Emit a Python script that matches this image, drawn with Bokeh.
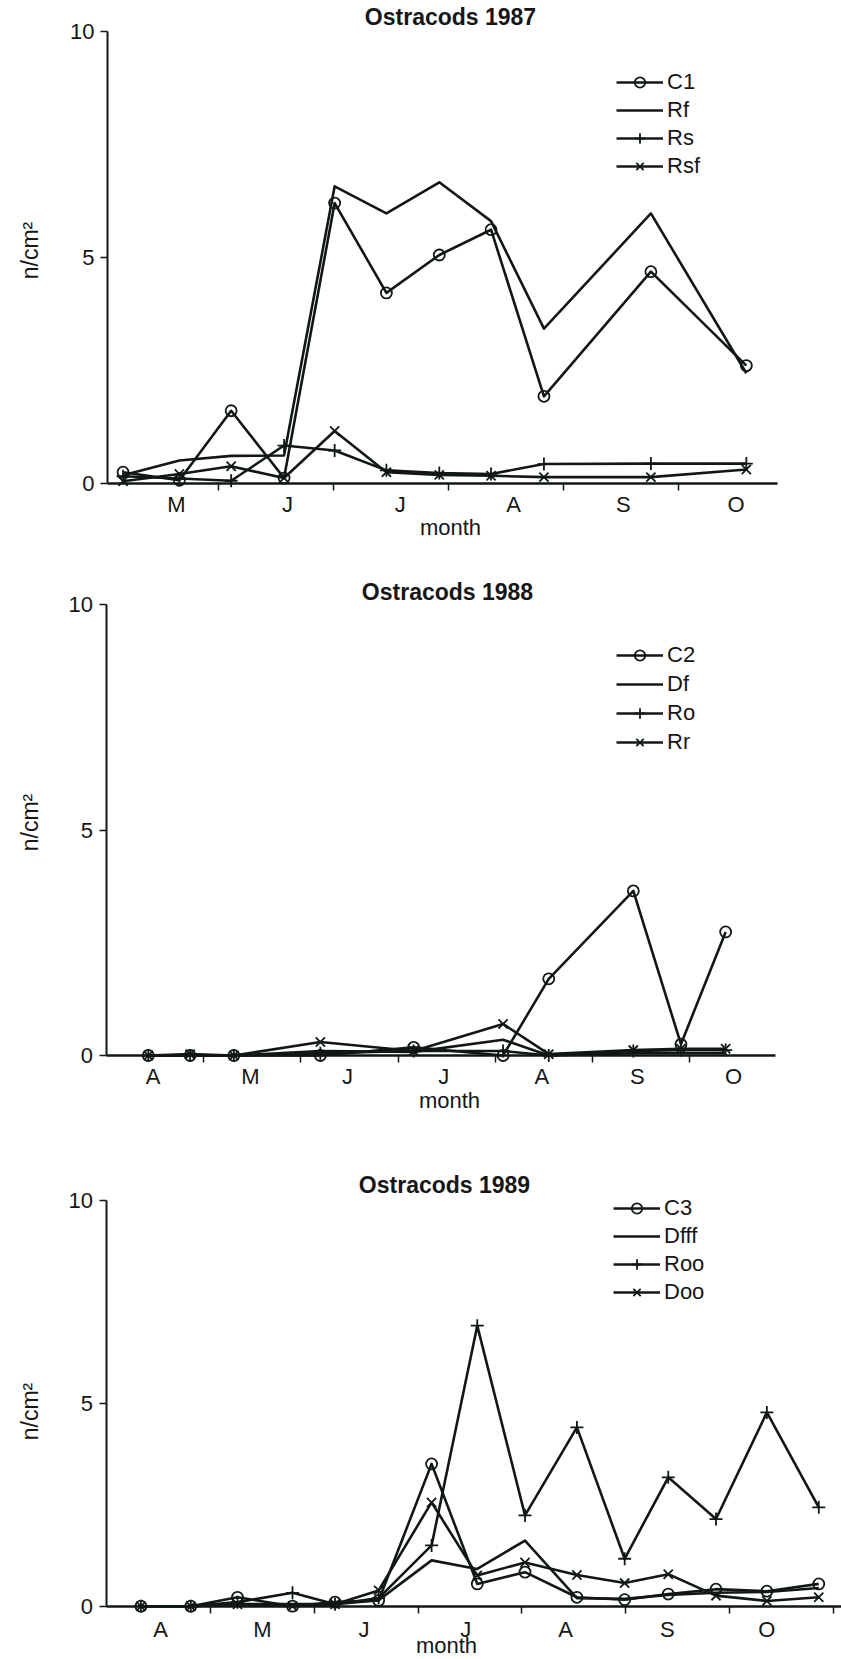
import math
from bokeh.plotting import figure
from bokeh.models import Range1d, FixedTicker, LinearAxis, Label, Legend, LegendItem
from bokeh.layouts import column
from bokeh.embed import file_html
from bokeh.resources import INLINE

# ---------------- data (x = month number, e.g. 5.5 = mid May) ----------------
# 1987
months87 = ["M", "J", "J", "A", "S", "O"]
month_pos87 = [5.635, 6.60, 7.58, 8.565, 9.52, 10.50]
month_edges87 = [6, 7, 8, 9, 10]
t87 = [5.17, 5.66, 6.11, 6.57, 7.01, 7.46, 7.92, 8.37, 8.83, 9.76, 10.59]
C1 = [0.24, 0.06, 1.60, 0.11, 6.20, 4.21, 5.05, 5.61, 1.92, 4.68, 2.60]
Rf = [0.17, 0.50, 0.60, 0.61, 6.57, 5.97, 6.66, 5.80, 3.42, 5.97, 2.43]
Rs = [0.15, 0.10, 0.05, 0.83, 0.72, 0.28, 0.22, 0.20, 0.42, 0.43, 0.43]
Rsf = [0.04, 0.20, 0.37, 0.11, 1.15, 0.24, 0.18, 0.16, 0.13, 0.13, 0.30]

# 1988
months88 = ["A", "M", "J", "J", "A", "S", "O"]
month_pos88 = [4.48, 5.48, 6.48, 7.47, 8.48, 9.46, 10.45]
month_edges88 = [5, 6, 7, 8, 9, 10]
t88 = [4.43, 4.86, 5.31, 6.20, 7.16, 8.08, 8.55, 9.42, 9.91, 10.37]
C2 = [0.0, 0.0, 0.0, 0.0, 0.18, 0.0, 1.70, 3.65, 0.25, 2.74]
Df = [0.0, 0.0, 0.0, 0.10, 0.08, 0.35, 0.0, 0.05, 0.05, 0.05]
Ro = [0.0, 0.0, 0.0, 0.05, 0.10, 0.10, 0.0, 0.10, 0.12, 0.12]
Rr = [0.0, 0.03, 0.0, 0.30, 0.10, 0.70, 0.03, 0.12, 0.15, 0.15]

# 1989
months89 = ["A", "M", "J", "J", "A", "S", "O"]
month_pos89 = [4.52, 5.50, 6.48, 7.46, 8.42, 9.40, 10.36]
month_edges89 = [5, 6, 7, 8, 9, 10, 11]
t89 = [4.33, 4.81, 5.26, 5.79, 6.20, 6.62, 7.13, 7.57, 8.03, 8.53, 8.99, 9.41, 9.87, 10.36, 10.86]
C3 = [0.0, 0.0, 0.22, 0.0, 0.10, 0.14, 3.51, 0.55, 0.84, 0.22, 0.16, 0.30, 0.42, 0.37, 0.55]
Dfff = [0.0, 0.0, 0.05, 0.05, 0.05, 0.15, 1.13, 0.92, 1.62, 0.20, 0.18, 0.28, 0.33, 0.35, 0.45]
Roo = [0.0, 0.0, 0.10, 0.33, 0.05, 0.20, 1.50, 6.92, 2.24, 4.41, 1.17, 3.18, 2.15, 4.78, 2.44]
Doo = [0.0, 0.0, 0.05, 0.0, 0.05, 0.39, 2.56, 0.76, 1.08, 0.77, 0.57, 0.79, 0.26, 0.13, 0.22]

# ---------------- styling ----------------
FONT = "Liberation Sans"
INK = "#111813"
TXT = "#161616"
W = 841
FS = "22px"

# layout of each panel (pixel geometry within the page)
layouts = [
    dict(H=560, top=0, m_ref=5, px_ref=103, ppm=115.0, y0=482.5, ppu=45.15,
         ax0=107, ax1=777, title_xy=(450, 16), month_xy=(450, 527), ylab_xy=(29.6, 250),
         leg_x=616, leg_top=68.7, leg_sp=2, lab_standoff=2),
    dict(H=555, top=560, m_ref=4, px_ref=106, ppm=97.2, y0=1055, ppu=45.1,
         ax0=105.5, ax1=775, title_xy=(447, 591), month_xy=(449, 1100), ylab_xy=(29.5, 822),
         leg_x=616, leg_top=642, leg_sp=3, lab_standoff=1),
    dict(H=544, top=1115, m_ref=4, px_ref=106.2, ppm=103.8, y0=1605.7, ppu=40.54,
         ax0=105.5, ax1=841, title_xy=(444, 1184), month_xy=(446, 1645), ylab_xy=(29.5, 1411),
         leg_x=613, leg_top=1194.5, leg_sp=2, lab_standoff=4),
]

panels = [
    dict(title="Ostracods 1987", t=t87, labels=months87, pos=month_pos87, edges=month_edges87,
         series=[("C1", C1, "circle"), ("Rf", Rf, None), ("Rs", Rs, "cross"), ("Rsf", Rsf, "x")]),
    dict(title="Ostracods 1988", t=t88, labels=months88, pos=month_pos88, edges=month_edges88,
         series=[("C2", C2, "circle"), ("Df", Df, None), ("Ro", Ro, "cross"), ("Rr", Rr, "x")]),
    dict(title="Ostracods 1989", t=t89, labels=months89, pos=month_pos89, edges=month_edges89,
         series=[("C3", C3, "circle"), ("Dfff", Dfff, None), ("Roo", Roo, "cross"), ("Doo", Doo, "x")]),
]

marker_size = {"circle": 11, "cross": 13, "x": 13}


def build(panel, lay):
    H, top = lay["H"], lay["top"]
    ppm, ppu = lay["ppm"], lay["ppu"]

    def px2x(px):
        return lay["m_ref"] + (px - lay["px_ref"]) / ppm

    def py2y(py_page):
        return (lay["y0"] - py_page) / ppu

    xa, xb = px2x(0), px2x(W)
    ya, yb = py2y(top + H), py2y(top)

    p = figure(width=W, height=H, x_range=Range1d(xa, xb), y_range=Range1d(ya, yb),
               x_axis_type=None, y_axis_type=None, title=None,
               toolbar_location=None, output_backend="svg",
               min_border_left=0, min_border_right=0, min_border_top=0, min_border_bottom=0,
               outline_line_color=None, background_fill_color="white", border_fill_color="white")

    # x axis at y = 0
    xs0, xs1 = px2x(lay["ax0"]), min(px2x(lay["ax1"]), xb)
    xaxis = LinearAxis(fixed_location=0, bounds=(xs0, xs1),
                       ticker=FixedTicker(ticks=panel["pos"], minor_ticks=panel["edges"]),
                       major_label_overrides={float(k): v for k, v in zip(panel["pos"], panel["labels"])},
                       axis_line_color=INK, axis_line_width=2.5,
                       major_tick_out=0, major_tick_in=0,
                       minor_tick_out=7, minor_tick_in=0, minor_tick_line_color=INK, minor_tick_line_width=1.5,
                       major_label_standoff=lay["lab_standoff"],
                       major_label_text_font=FONT, major_label_text_font_size=FS,
                       major_label_text_color=TXT)
    p.add_layout(xaxis, "below")

    # y axis at the left end of the x axis
    yaxis = LinearAxis(fixed_location=xs0, bounds=(0, 10),
                       ticker=FixedTicker(ticks=[0, 5, 10], minor_ticks=[]),
                       axis_line_color=INK, axis_line_width=2,
                       major_tick_out=7, major_tick_in=0, major_tick_line_color=INK, major_tick_line_width=1.5,
                       minor_tick_out=0, minor_tick_in=0,
                       major_label_standoff=6,
                       major_label_text_font=FONT, major_label_text_font_size=FS,
                       major_label_text_color=TXT)
    p.add_layout(yaxis, "left")

    items = []
    for name, vals, marker in panel["series"]:
        rl = p.line(panel["t"], vals, line_color=INK, line_width=2.6, line_join="round")
        rends = [rl]
        if marker is not None:
            rs = p.scatter(panel["t"], vals, marker=marker, size=marker_size[marker], line_color=INK,
                           line_width=1.8, fill_color=None)
            rends.append(rs)
        items.append(LegendItem(label=name, renderers=rends))

    gh = 26
    n = len(items)
    leg_h = n * gh + (n - 1) * lay["leg_sp"]
    leg_bottom_from_frame_bottom = (top + H) - (lay["leg_top"] + leg_h)
    legend = Legend(items=items, location=(lay["leg_x"], leg_bottom_from_frame_bottom),
                    orientation="vertical", glyph_width=47, glyph_height=gh, label_height=gh,
                    label_standoff=4, spacing=lay["leg_sp"], padding=0, margin=0,
                    border_line_alpha=0, background_fill_alpha=0,
                    label_text_font=FONT, label_text_font_size=FS, label_text_color=TXT)
    p.add_layout(legend)

    tx, ty = lay["title_xy"]
    p.add_layout(Label(x=px2x(tx), y=py2y(ty), text=panel["title"], text_align="center",
                       text_baseline="middle", text_font=FONT, text_font_style="bold",
                       text_font_size="23px", text_color=TXT))
    mx, my = lay["month_xy"]
    p.add_layout(Label(x=px2x(mx), y=py2y(my), text="month", text_align="center",
                       text_baseline="middle", text_font=FONT, text_font_size=FS, text_color=TXT))
    lx, ly = lay["ylab_xy"]
    p.add_layout(Label(x=px2x(lx), y=py2y(ly), text="n/cm²", angle=math.pi / 2,
                       text_align="center", text_baseline="middle", text_font=FONT,
                       text_font_size="23px", text_color=TXT))
    return p


figs = [build(pn, ly) for pn, ly in zip(panels, layouts)]
layout = column(*figs, spacing=0)
open("out.html", "w").write(file_html(layout, INLINE))
